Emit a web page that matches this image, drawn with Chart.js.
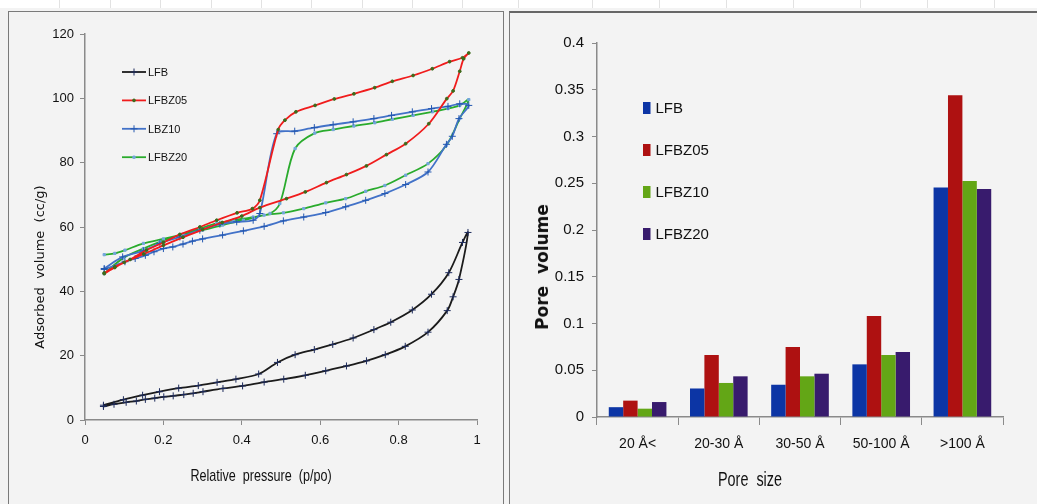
<!DOCTYPE html>
<html>
<head>
<meta charset="utf-8">
<script src="https://cdn.jsdelivr.net/npm/chart.js@4.4.0/dist/chart.umd.min.js"></script>
<style>
  html, body { margin: 0; padding: 0; }
  body { width: 1037px; height: 504px; position: relative; overflow: hidden; background: #f3f3f3;
         font-family: 'Liberation Sans', sans-serif; }
  #strip { position: absolute; left: 0; top: 0; width: 1037px; height: 8px; background: #fff; }
  .gl { position: absolute; top: 0; width: 1px; height: 8px; background: #e2e2e2; }
  .panel { position: absolute; background: #f3f3f3; }
  #left { left: 8px; top: 11px; width: 494px; height: 493px; border: 1px solid #7a7a7a; border-bottom: none; }
  #right { left: 509px; top: 11px; width: 528px; height: 493px; border-left: 1px solid #7a7a7a; border-top: 2px solid #666; }
  canvas { position: absolute; left: 0; top: 0; }
  .title { position: absolute; white-space: pre; color: #111; }
</style>
</head>
<body>
<div id="strip"></div>
<div id="left" class="panel">
  <canvas id="chart-iso" width="494" height="492"></canvas>
  <div class="title" style="left:30px;top:255px;font:13px 'DejaVu Sans', sans-serif;transform:translate(-50%,-50%) rotate(-90deg);">Adsorbed  volume  (cc/g)</div>
  <div class="title" style="left:252px;top:464px;font:17px 'Liberation Sans', sans-serif;transform:translate(-50%,-50%) scaleX(0.74);">Relative  pressure  (p/po)</div>
</div>
<div id="right" class="panel">
  <canvas id="chart-pores" width="527" height="491"></canvas>
  <div class="title" style="left:32px;top:254px;font:bold 17px 'DejaVu Sans', sans-serif;transform:translate(-50%,-50%) rotate(-90deg);">Pore  volume</div>
  <div class="title" style="left:240px;top:466px;font:20px 'Liberation Sans', sans-serif;transform:translate(-50%,-50%) scaleX(0.72);">Pore  size</div>
</div>
<script>
// faint spreadsheet gridlines in the top strip
[59, 110, 160, 211, 261, 311, 362, 412, 462, 518, 592, 659, 726, 793, 860, 927, 994].forEach((x) => {
  const d = document.createElement('div');
  d.className = 'gl';
  d.style.left = x + 'px';
  document.body.appendChild(d);
});

// ----- isotherms (adsorption branch, then desorption back down) -----
const lfbX = [0.047, 0.074, 0.105, 0.131, 0.154, 0.178, 0.201, 0.225, 0.252, 0.276, 0.301, 0.352, 0.402, 0.457, 0.507,
  0.562, 0.614, 0.667, 0.718, 0.766, 0.817, 0.875, 0.924, 0.939, 0.954, 0.977,
  0.963, 0.928, 0.884, 0.835, 0.780, 0.737, 0.684, 0.632, 0.585, 0.536, 0.491, 0.443, 0.385, 0.337, 0.289, 0.239,
  0.190, 0.147, 0.098, 0.047];
const lfbY = [4.2, 4.9, 5.5, 5.9, 6.4, 6.8, 7.2, 7.5, 7.9, 8.3, 8.8, 9.8, 10.6, 11.8, 12.7,
  13.9, 15.3, 16.8, 18.4, 20.3, 22.9, 27.3, 34.0, 38.3, 43.7, 58.3,
  55.2, 45.8, 39.1, 34.2, 30.4, 28.1, 25.5, 23.5, 21.9, 20.3, 17.9, 14.3, 12.7, 11.7, 10.7, 9.9,
  8.8, 7.7, 6.3, 4.6];

const z05X = [0.049, 0.076, 0.100, 0.150, 0.200, 0.250, 0.300, 0.350, 0.400, 0.446, 0.514, 0.562, 0.616, 0.667,
  0.718, 0.769, 0.818, 0.877, 0.923, 0.939, 0.956, 0.966, 0.979,
  0.963, 0.930, 0.886, 0.837, 0.784, 0.739, 0.686, 0.636, 0.587, 0.538, 0.510, 0.493, 0.446, 0.427, 0.388, 0.336,
  0.293, 0.242, 0.200, 0.157, 0.115, 0.076, 0.049];
const z05Y = [45.5, 47.4, 49.0, 51.6, 54.3, 56.8, 59.2, 61.4, 63.4, 66.0, 68.8, 70.9, 73.8, 76.3,
  79.0, 82.5, 85.9, 92.1, 99.9, 102.3, 108.4, 112.3, 114.1,
  112.6, 111.4, 109.2, 107.1, 105.3, 103.3, 101.4, 99.8, 97.8, 95.8, 93.2, 90.3, 68.3, 65.7, 64.4, 62.1,
  60.0, 57.7, 55.2, 52.8, 49.9, 47.6, 45.7];

const z10X = [0.049, 0.102, 0.128, 0.154, 0.176, 0.200, 0.224, 0.250, 0.274, 0.300, 0.351, 0.404, 0.457, 0.506,
  0.558, 0.614, 0.665, 0.716, 0.765, 0.818, 0.875, 0.922, 0.937, 0.954, 0.979,
  0.956, 0.926, 0.884, 0.835, 0.782, 0.737, 0.684, 0.633, 0.585, 0.535, 0.489, 0.446, 0.429, 0.387, 0.344,
  0.293, 0.242, 0.191, 0.149, 0.096, 0.049];
const z10Y = [46.8, 49.2, 50.2, 51.2, 52.3, 53.3, 53.8, 54.7, 55.6, 56.3, 57.5, 58.8, 60.2, 61.9,
  63.1, 64.5, 66.3, 68.3, 70.4, 73.2, 77.1, 85.7, 88.2, 93.7, 97.8,
  98.3, 97.5, 96.8, 95.8, 94.7, 93.7, 92.7, 91.8, 90.9, 89.8, 89.0, 64.2, 62.1, 61.6, 60.9,
  59.0, 56.9, 54.9, 52.6, 50.7, 47.1];

const z20X = [0.049, 0.076, 0.102, 0.149, 0.200, 0.250, 0.300, 0.351, 0.404, 0.457, 0.506, 0.558, 0.614, 0.665,
  0.716, 0.765, 0.818, 0.875, 0.922, 0.956, 0.979,
  0.956, 0.926, 0.886, 0.837, 0.784, 0.739, 0.686, 0.633, 0.586, 0.536, 0.497, 0.472, 0.429, 0.378, 0.336,
  0.293, 0.242, 0.191, 0.149, 0.098, 0.049];
const z20Y = [51.4, 51.8, 52.8, 54.9, 56.3, 57.7, 59.0, 60.6, 62.1, 63.7, 64.4, 65.7, 67.5, 68.8,
  71.1, 72.9, 76.1, 79.7, 85.4, 93.7, 99.6,
  97.8, 96.8, 95.8, 94.7, 93.5, 92.4, 91.4, 90.3, 89.2, 84.4, 67.3, 64.2, 63.1, 62.1, 61.1,
  59.5, 57.5, 55.4, 53.3, 50.4, 45.5];

// ----- pore size distribution -----
const poreSizes = ['20 Å<', '20-30 Å', '30-50 Å', '50-100 Å', '>100 Å'];
const poreLFB = [0.0105, 0.0305, 0.0345, 0.0563, 0.2455];
const poreLFBZ05 = [0.0175, 0.0663, 0.0749, 0.108, 0.344];
const poreLFBZ10 = [0.0089, 0.0364, 0.0435, 0.0663, 0.2524];
const poreLFBZ20 = [0.016, 0.0435, 0.0463, 0.0695, 0.2439];

const pts = (xs, ys) => xs.map((x, i) => ({ x, y: ys[i] }));
const FONT = "'Liberation Sans', sans-serif";
const AXIS = '#8a8a8a';
const plain = (v) => String(+Number(v).toFixed(2)); // 0.40 -> "0.4", 1.0 -> "1"

// leyenda dibujada dentro del área (como en Excel)
const boxLegend = {
  id: 'boxLegend',
  afterDraw(chart, args, o) {
    const { ctx } = chart;
    ctx.save();
    ctx.font = o.font;
    ctx.textBaseline = 'middle';
    chart.data.datasets.forEach((ds, i) => {
      const y = o.top + i * o.gap;
      if (o.kind === 'line') {
        ctx.strokeStyle = ds.borderColor;
        ctx.lineWidth = ds.borderWidth;
        ctx.beginPath();
        ctx.moveTo(o.left, y);
        ctx.lineTo(o.left + o.len, y);
        ctx.stroke();
        ctx.strokeStyle = ds.pointBorderColor;
        ctx.fillStyle = ds.pointBackgroundColor;
        ctx.lineWidth = 1;
        Chart.helpers.drawPoint(ctx, { pointStyle: ds.pointStyle, radius: ds.pointRadius, borderWidth: 1, rotation: 0 },
          o.left + o.len / 2, y);
      } else {
        ctx.fillStyle = ds.backgroundColor;
        ctx.fillRect(o.left, y - o.h / 2, o.len, o.h);
      }
      ctx.fillStyle = '#111';
      ctx.fillText(ds.label, o.left + o.len + o.textGap, y + 1);
    });
    ctx.restore();
  },
};

new Chart(document.getElementById('chart-iso'), {
  type: 'scatter',
  data: {
    datasets: [
      { label: 'LFB', data: pts(lfbX, lfbY), borderColor: '#1b1b1b', pointStyle: 'cross',
        pointRadius: 3.5, pointBorderColor: '#1d2b5c', pointBackgroundColor: '#1d2b5c' },
      { label: 'LFBZ05', data: pts(z05X, z05Y), borderColor: '#f01c1c', pointStyle: 'circle',
        pointRadius: 1.4, pointBorderColor: '#3d6a1b', pointBackgroundColor: '#3d6a1b' },
      { label: 'LBZ10', data: pts(z10X, z10Y), borderColor: '#4272c8', pointStyle: 'cross',
        pointRadius: 3.5, pointBorderColor: '#2458b0', pointBackgroundColor: '#2458b0' },
      { label: 'LFBZ20', data: pts(z20X, z20Y), borderColor: '#29ab2c', pointStyle: 'rect',
        pointRadius: 1.6, pointBorderColor: '#74a6dc', pointBackgroundColor: '#74a6dc' },
    ].map((d) => ({ ...d, showLine: true, borderWidth: 1.8, tension: 0.3, pointBorderWidth: 1, pointHoverRadius: 0 })),
  },
  options: {
    responsive: false, animation: false,
    layout: { padding: { left: 0, right: 26, top: 22, bottom: 0 } },
    plugins: {
      legend: { display: false }, tooltip: { enabled: false },
      boxLegend: { kind: 'line', left: 113, top: 60, gap: 28.4, len: 24, textGap: 2, font: `11px ${FONT}` },
    },
    scales: {
      x: {
        type: 'linear', min: 0, max: 1,
        afterFit: (s) => { s.height = 84; },
        ticks: { stepSize: 0.2, padding: 8, color: '#111', font: { size: 13, family: FONT }, callback: plain },
        grid: { drawOnChartArea: false, tickLength: 5, color: AXIS },
        border: { color: AXIS, width: 1.5 },
      },
      y: {
        min: 0, max: 120,
        afterFit: (s) => { s.width = 76; },
        ticks: { stepSize: 20, padding: 6, color: '#111', font: { size: 13, family: FONT }, callback: plain },
        grid: { drawOnChartArea: false, tickLength: 5, color: AXIS },
        border: { color: AXIS, width: 1.5 },
      },
    },
  },
  plugins: [boxLegend],
});

new Chart(document.getElementById('chart-pores'), {
  type: 'bar',
  data: {
    labels: poreSizes,
    datasets: [
      { label: 'LFB', data: poreLFB, backgroundColor: '#0c35a5' },
      { label: 'LFBZ05', data: poreLFBZ05, backgroundColor: '#ae1111' },
      { label: 'LFBZ10', data: poreLFBZ10, backgroundColor: '#63a616' },
      { label: 'LFBZ20', data: poreLFBZ20, backgroundColor: '#381b6d' },
    ].map((d) => ({ ...d, categoryPercentage: 0.71, barPercentage: 1.0 })),
  },
  options: {
    responsive: false, animation: false,
    layout: { padding: { left: 0, right: 34, top: 30, bottom: 0 } },
    plugins: {
      legend: { display: false }, tooltip: { enabled: false },
      boxLegend: { kind: 'box', left: 133, top: 95, gap: 42, len: 7.5, h: 12, textGap: 5, font: `15px ${FONT}` },
    },
    scales: {
      x: {
        afterFit: (s) => { s.height = 87; },
        ticks: { padding: 11, color: '#111', font: { size: 14, family: FONT } },
        grid: { offset: true, drawOnChartArea: false, tickLength: 8, color: AXIS },
        border: { color: AXIS, width: 1.5 },
      },
      y: {
        min: 0, max: 0.4,
        afterFit: (s) => { s.width = 87; },
        ticks: { stepSize: 0.05, padding: 8, color: '#111', font: { size: 15, family: FONT }, callback: plain },
        grid: { drawOnChartArea: false, tickLength: 5, color: AXIS },
        border: { color: AXIS, width: 1.5 },
      },
    },
  },
  plugins: [boxLegend],
});
</script>
</body>
</html>
